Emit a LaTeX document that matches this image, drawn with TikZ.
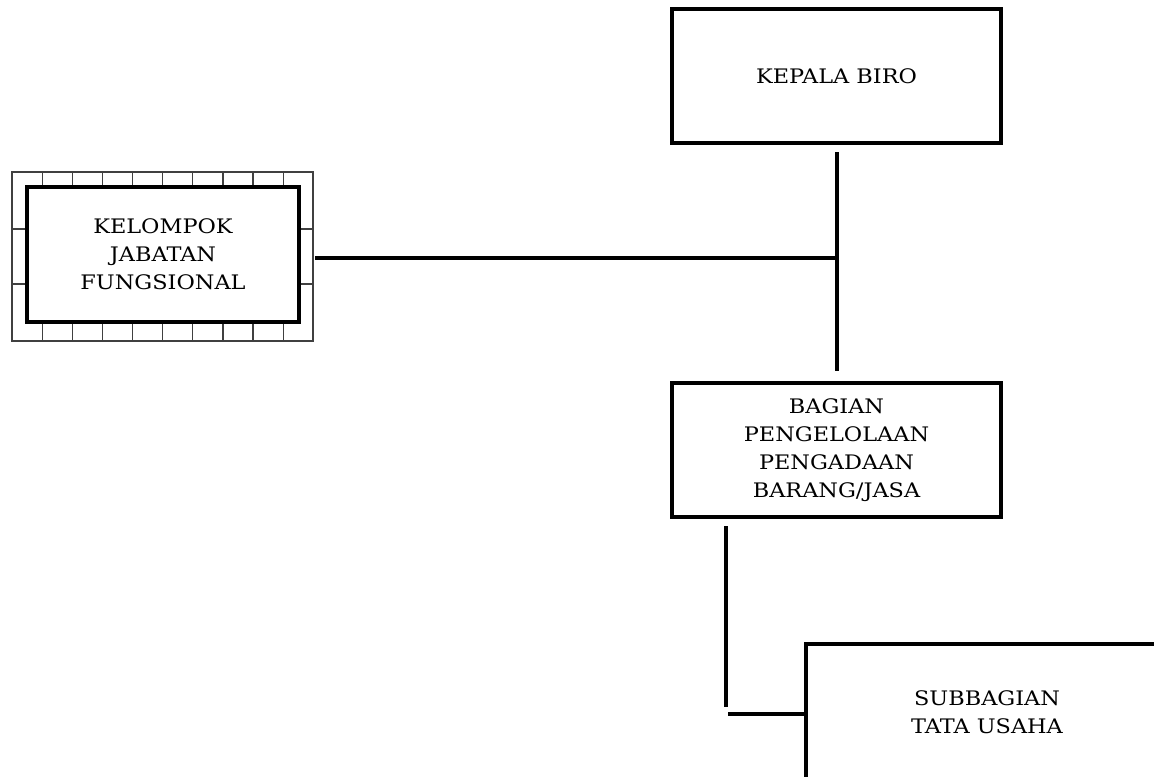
\documentclass[tikz,border=0pt]{standalone}
\usepackage{fontspec}
\setmainfont{DejaVu Serif}[FakeStretch=1.12]
\begin{document}
\begin{tikzpicture}[x=0.5pt,y=-0.5pt,
  box/.style={draw=black,line width=2pt,fill=white,align=center,
    minimum width=164.5pt,minimum height=67pt,inner sep=0pt,
    font=\fontsize{10}{13.9}\selectfont},
  conn/.style={line width=2pt},
  thin/.style={draw=black!75,line width=0.6pt}]
\useasboundingbox (0,0) rectangle (1154,776);
\clip (0,0) rectangle (1154,776);
% boxes
\node[box] (kepala) at (836.5,76) {KEPALA BIRO};
\node[box] (bagian) at (836.5,450) {BAGIAN\\PENGELOLAAN\\PENGADAAN\\BARANG/JASA};
\node[box,minimum width=181pt,minimum height=68pt] (sub) at (987,712) {SUBBAGIAN\\TATA USAHA};
% functional group with brick frame
\draw[thin] (12,172) rectangle (313,341);
\foreach \x in {42.3,72.4,102.5,132.6,162.7,192.8,222.9,253,283.1}{
  \draw[thin] (\x,172) -- (\x,187);
  \draw[thin] (\x,322) -- (\x,341);
}
\foreach \y in {229,284}{
  \draw[thin] (12,\y) -- (27,\y);
  \draw[thin] (299,\y) -- (313,\y);
}
\node[box,minimum width=136pt,minimum height=67.5pt] (kjf) at (163,254.5) {KELOMPOK\\JABATAN\\FUNGSIONAL};
% connectors
\coordinate (j) at (837,258);
\coordinate (kjfr) at (315,258);
\draw[conn,shorten <=7pt/2] (kepala.south -| j) -- (j);
\draw[conn,shorten >=10pt/2] (j) -- (bagian.north -| j);
\draw[conn] (kjfr) -- (j);
\coordinate (b1) at (726,707);
\coordinate (b2) at (728,714);
\draw[conn,shorten <=3.5pt] (bagian.south -| b1) -- (b1);
\draw[conn] (b2) -- (b2 -| sub.west);
\end{tikzpicture}
\end{document}
